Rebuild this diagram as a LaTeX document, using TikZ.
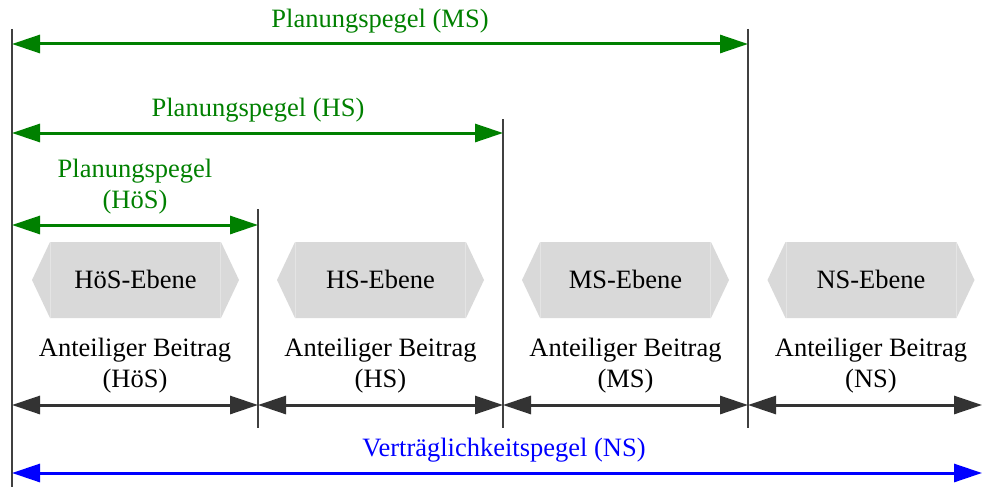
\documentclass[tikz,border=0pt]{standalone}
\usepackage{fontspec}
\setmainfont{Liberation Serif}
\usetikzlibrary{arrows.meta}
\definecolor{pgreen}{RGB}{0,128,0}
\definecolor{pblue}{RGB}{0,0,255}
\definecolor{dk}{RGB}{51,51,51}
\definecolor{vl}{RGB}{64,64,64}
\definecolor{hexgray}{RGB}{217,217,217}
\definecolor{hexedge}{RGB}{228,228,228}
\begin{document}
\begin{tikzpicture}[x=1pt,y=-1pt,
  lbl/.style={font=\fontsize{26.5}{31}\selectfont, align=center, inner sep=0pt},
  dimarrow/.style={line width=3pt, {Triangle[length=28pt,width=18pt]}-{Triangle[length=28pt,width=18pt]}},
  vline/.style={line width=2pt, draw=vl},
  hexfill/.style={fill=hexgray, draw=none},
  hexline/.style={draw=hexedge, line width=1pt}]
\useasboundingbox (0,0) rectangle (982,487);

% vertical lines
\coordinate (v0t) at (12,29);  \coordinate (v0b) at (12,487);
\coordinate (v1t) at (258,209); \coordinate (v1b) at (258,428);
\coordinate (v2t) at (503,119); \coordinate (v2b) at (503,428);
\coordinate (v3t) at (748,29);  \coordinate (v3b) at (748,428);
\draw[vline] (v0t) -- (v0b);
\draw[vline] (v1t) -- (v1b);
\draw[vline] (v2t) -- (v2b);
\draw[vline] (v3t) -- (v3b);

% hexagons
\foreach \cx/\nm/\txt in {135.5/hoes/HöS-Ebene, 380.5/hs/HS-Ebene, 625.5/ms/MS-Ebene, 871/ns/NS-Ebene}{
  \fill[hexfill] (\cx,280) +(-103.5,0) -- +(-85.5,-38) -- +(85.5,-38) -- +(103.5,0) -- +(85.5,38) -- +(-85.5,38) -- cycle;
  \draw[hexline] (\cx,280) +(-85,-38) -- +(-85,38);
  \draw[hexline] (\cx,280) +(85,-38) -- +(85,38);
  \node[lbl] (hex-\nm) at (\cx,279) {\txt};
}

% green arrows
\coordinate (msl) at (12,44);  \coordinate (msr) at (748,44);
\coordinate (hsl) at (12,133); \coordinate (hsr) at (503,133);
\coordinate (hoesl) at (12,225); \coordinate (hoesr) at (258,225);
\draw[dimarrow, pgreen] (msl) -- (msr);
\draw[dimarrow, pgreen] (hsl) -- (hsr);
\draw[dimarrow, pgreen] (hoesl) -- (hoesr);
\node[lbl, text=pgreen] (lms) at (380,21) {Planungspegel (MS)};
\node[lbl, text=pgreen] (lhs) at (258,110) {Planungspegel (HS)};
\node[lbl, text=pgreen] (lhoes) at (135,187) {Planungspegel\\(HöS)};

% contribution arrows
\coordinate (b0) at (12,405); \coordinate (b1) at (258,405);
\coordinate (b2) at (503,405); \coordinate (b3) at (748,405);
\coordinate (b4) at (982,405);
\draw[dimarrow, dk] (b0) -- (b1);
\draw[dimarrow, dk] (b1) -- (b2);
\draw[dimarrow, dk] (b2) -- (b3);
\draw[dimarrow, dk] (b3) -- (b4);
\node[lbl] (ahoes) at (135,366) {Anteiliger Beitrag\\(HöS)};
\node[lbl] (ahs) at (380.5,366) {Anteiliger Beitrag\\(HS)};
\node[lbl] (ams) at (625.5,366) {Anteiliger Beitrag\\(MS)};
\node[lbl] (ans) at (871,366) {Anteiliger Beitrag\\(NS)};

% blue arrow
\coordinate (nsl) at (12,473); \coordinate (nsr) at (982,473);
\draw[dimarrow, pblue] (nsl) -- (nsr);
\node[lbl, text=pblue] (lns) at (504,450) {Verträglichkeitspegel (NS)};
\end{tikzpicture}
\end{document}
